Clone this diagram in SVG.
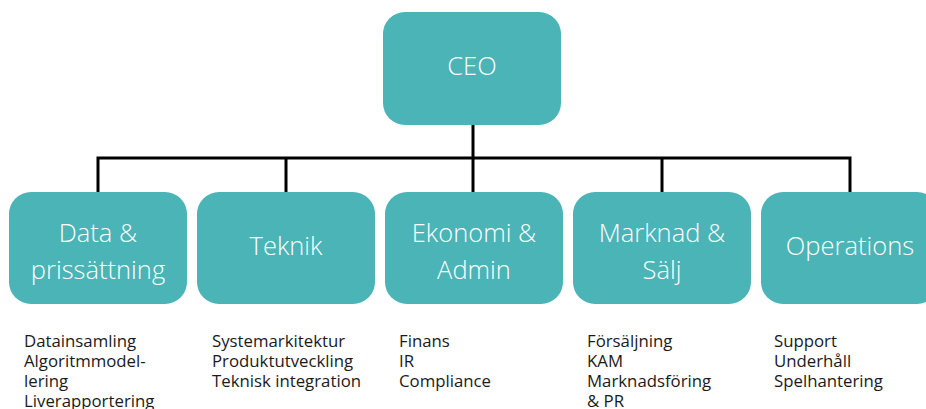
<svg xmlns="http://www.w3.org/2000/svg" width="926" height="409" viewBox="0 0 926 409">
<style>
.box{fill:#4AB4B6}
.t{font-family:"Open Sans","DejaVu Sans",sans-serif;font-size:25.5px;fill:#fff;text-anchor:middle;font-weight:300}
.l{font-family:"Open Sans","DejaVu Sans",sans-serif;font-size:16.8px;fill:#1a1a1a}
.c{stroke:#000;stroke-width:3;fill:none}
</style>
<rect width="926" height="409" fill="#fff"/>
<g id="connectors">
<path class="c" d="M473 124V192M97 158H851M98 156.5V192M286 156.5V192M662 156.5V192M850 156.5V192"/>
</g>
<g id="ceo"><rect class="box" x="383" y="12" width="178" height="113" rx="22"/><text class="t" x="472" y="75">CEO</text></g>
<g id="data"><rect class="box" x="9" y="192" width="178" height="112" rx="22"/><text class="t" x="98" y="242">Data &amp;</text><text class="t" x="98" y="279">prissättning</text>
<text class="l" x="24" y="347">Datainsamling</text><text class="l" x="24" y="367">Algoritmmodel-</text><text class="l" x="24" y="387">lering</text><text class="l" x="24" y="407">Liverapportering</text></g>
<g id="teknik"><rect class="box" x="197" y="192" width="178" height="112" rx="22"/><text class="t" x="286" y="255">Teknik</text>
<text class="l" x="212" y="347">Systemarkitektur</text><text class="l" x="212" y="367">Produktutveckling</text><text class="l" x="212" y="387">Teknisk integration</text></g>
<g id="ekonomi"><rect class="box" x="385" y="192" width="178" height="112" rx="22"/><text class="t" x="474" y="242">Ekonomi &amp;</text><text class="t" x="474" y="279">Admin</text>
<text class="l" x="399" y="347">Finans</text><text class="l" x="399" y="367">IR</text><text class="l" x="399" y="387">Compliance</text></g>
<g id="marknad"><rect class="box" x="573" y="192" width="178" height="112" rx="22"/><text class="t" x="662" y="242">Marknad &amp;</text><text class="t" x="662" y="279">Sälj</text>
<text class="l" x="587" y="347">Försäljning</text><text class="l" x="587" y="367">KAM</text><text class="l" x="587" y="387">Marknadsföring</text><text class="l" x="587" y="407">&amp; PR</text></g>
<g id="operations"><rect class="box" x="761" y="192" width="178" height="112" rx="22"/><text class="t" x="850" y="255">Operations</text>
<text class="l" x="774" y="347">Support</text><text class="l" x="774" y="367">Underhåll</text><text class="l" x="774" y="387">Spelhantering</text></g>
</svg>
